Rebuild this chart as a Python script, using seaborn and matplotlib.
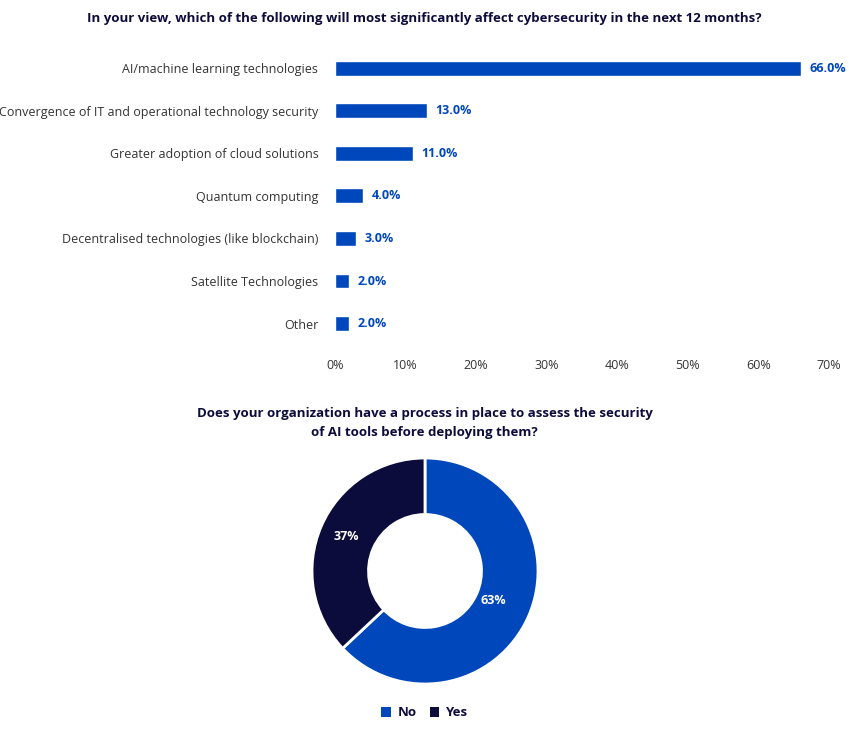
import numpy as np
import pandas as pd
import seaborn as sns
import matplotlib.pyplot as plt

# data
factors = ['AI/machine learning technologies',
           'Convergence of IT and operational technology security',
           'Greater adoption of cloud solutions',
           'Quantum computing',
           'Decentralised technologies (like blockchain)',
           'Satellite Technologies',
           'Other']
factor_pct = [66.0, 13.0, 11.0, 4.0, 3.0, 2.0, 2.0]
x_ticks = [0, 10, 20, 30, 40, 50, 60, 70]

process_labels = ['No', 'Yes']
process_pct = [63, 37]

BLUE = '#0047BB'
NAVY = '#0C0C3C'
TEXT = '#333333'

sns.set_theme(style='white')
plt.rcParams['font.family'] = ['Open Sans', 'DejaVu Sans']

fig = plt.figure(figsize=(8.49, 7.29), dpi=100)

# bar chart
ax = fig.add_axes([0.3946, 0.527, 0.582, 0.4085])
df = pd.DataFrame({'factor': factors, 'pct': factor_pct})
sns.barplot(data=df, y='factor', x='pct', color=BLUE, width=0.35,
            saturation=1, ax=ax, orient='h')
ax.set_xlim(0, 70)
ax.set_ylim(6.5, -0.5)
ax.set_xticks(x_ticks)
ax.set_xticklabels([f'{t}%' for t in x_ticks], fontsize=9, color=TEXT)
ax.tick_params(axis='y', labelsize=9, colors=TEXT, pad=12, length=0)
ax.tick_params(axis='x', pad=10, length=0)
ax.set_xlabel('')
ax.set_ylabel('')
sns.despine(ax=ax, left=True, bottom=True)
for i, v in enumerate(factor_pct):
    ax.text(v + 1.2, i, f'{v:.1f}%', va='center', ha='left',
            fontsize=9, fontweight='bold', color=BLUE)

fig.text(0.5, 0.975,
         'In your view, which of the following will most significantly affect cybersecurity in the next 12 months?',
         ha='center', va='center', fontsize=9.5, fontweight='bold', color=NAVY)

# donut chart
ax2 = fig.add_axes([425 / 849 - 113 / 849, 1 - 684 / 729, 226 / 849, 226 / 729])
wedges, _ = ax2.pie(process_pct, colors=[BLUE, NAVY], startangle=90,
                    counterclock=False, radius=1,
                    wedgeprops=dict(width=0.5, edgecolor='white', linewidth=2))
ax2.set_xlim(-1, 1)
ax2.set_ylim(-1, 1)
ax2.set_aspect('equal')
for w, v, r in zip(wedges, process_pct, [0.66, 0.76]):
    ang = np.deg2rad((w.theta1 + w.theta2) / 2)
    ax2.text(r * np.cos(ang), r * np.sin(ang), f'{v}%', ha='center',
             va='center', fontsize=9, fontweight='bold', color='white')

fig.text(0.5, 1 - 423 / 729,
         'Does your organization have a process in place to assess the security\nof AI tools before deploying them?',
         ha='center', va='center', fontsize=9.5, fontweight='bold', color=NAVY,
         linespacing=1.6)

leg = fig.legend(wedges, process_labels, loc='center', bbox_to_anchor=(0.5, 1 - 713 / 729),
                 ncol=2, frameon=False, handlelength=0.7, handleheight=0.7,
                 handletextpad=0.5, columnspacing=1.0,
                 prop={'weight': 'bold', 'size': 9.5})
for t in leg.get_texts():
    t.set_color(NAVY)
for h in leg.legend_handles:
    h.set_edgecolor('none')

fig.savefig('out.png', dpi=100)
